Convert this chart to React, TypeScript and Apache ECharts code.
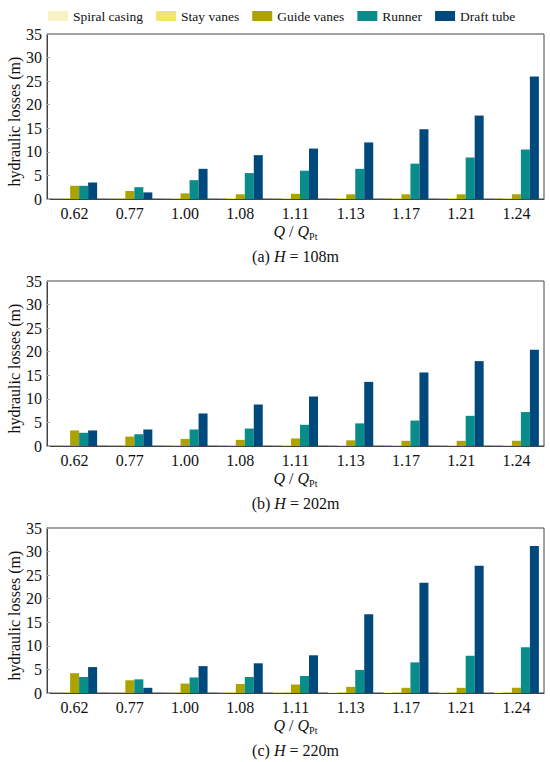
import React, { useEffect, useRef } from "react";
import * as echarts from "echarts";

const categories = ["0.62", "0.77", "1.00", "1.08", "1.11", "1.13", "1.17", "1.21", "1.24"];
const seriesNames = ["Spiral casing", "Stay vanes", "Guide vanes", "Runner", "Draft tube"];
const seriesColors = ["#F6F2C2", "#F1E66C", "#ACA300", "#0A8C8A", "#00497C"];
const yTicks = [0, 5, 10, 15, 20, 25, 30, 35];

// (a) H = 108m
const spiralA = [0.05, 0.05, 0.05, 0.05, 0.05, 0.05, 0.05, 0.05, 0.05];
const stayA = [0.1, 0.1, 0.15, 0.2, 0.2, 0.2, 0.2, 0.2, 0.2];
const guideA = [2.8, 1.7, 1.2, 1.0, 1.1, 1.0, 1.0, 1.0, 1.0];
const runnerA = [2.8, 2.5, 4.0, 5.5, 6.0, 6.4, 7.5, 8.8, 10.5];
const draftA = [3.5, 1.4, 6.4, 9.3, 10.7, 12.0, 14.8, 17.7, 26.0];

// (b) H = 202m
const spiralB = [0.05, 0.05, 0.05, 0.05, 0.05, 0.05, 0.05, 0.05, 0.05];
const stayB = [0.1, 0.1, 0.15, 0.15, 0.2, 0.2, 0.2, 0.2, 0.2];
const guideB = [3.3, 2.0, 1.5, 1.3, 1.6, 1.2, 1.1, 1.1, 1.1];
const runnerB = [2.8, 2.5, 3.5, 3.7, 4.5, 4.8, 5.4, 6.4, 7.2];
const draftB = [3.3, 3.5, 6.9, 8.8, 10.5, 13.6, 15.6, 18.0, 20.4];

// (c) H = 220m
const spiralC = [0.05, 0.05, 0.05, 0.1, 0.15, 0.25, 0.3, 0.3, 0.3];
const stayC = [0.1, 0.1, 0.1, 0.15, 0.15, 0.15, 0.15, 0.15, 0.15];
const guideC = [4.2, 2.7, 2.0, 1.9, 1.8, 1.3, 1.1, 1.1, 1.1];
const runnerC = [3.4, 2.9, 3.3, 3.4, 3.6, 4.9, 6.5, 7.9, 9.7];
const draftC = [5.5, 1.1, 5.7, 6.3, 8.0, 16.7, 23.4, 27.0, 31.2];

const panelLabels = [
  { tag: "(a) ", h: "108m" },
  { tag: "(b) ", h: "202m" },
  { tag: "(c) ", h: "220m" },
];

const panels = [
  [spiralA, stayA, guideA, runnerA, draftA],
  [spiralB, stayB, guideB, runnerB, draftB],
  [spiralC, stayC, guideC, runnerC, draftC],
];

const FONT = "'Liberation Serif', 'Times New Roman', serif";
const GRID_LEFT = 47;
const GRID_WIDTH = 497;
const GRID_HEIGHT = 165;
const GRID_TOPS = [34, 281, 528];

export default function App() {
  const ref = useRef<HTMLDivElement>(null);

  useEffect(() => {
    if (!ref.current) return;
    const chart = echarts.init(ref.current, null, { renderer: "svg" });

    const grids = GRID_TOPS.map((top) => ({
      left: GRID_LEFT,
      top,
      width: GRID_WIDTH,
      height: GRID_HEIGHT,
      show: true,
      borderColor: "#444",
      borderWidth: 1,
      backgroundColor: "transparent",
    }));

    const xAxes = GRID_TOPS.map((_, i) => ({
      type: "category",
      gridIndex: i,
      data: categories,
      axisLine: { show: true, lineStyle: { color: "#444", width: 1 } },
      axisTick: { show: true, inside: true, alignWithLabel: true, length: 2, lineStyle: { color: "#000", width: 1.5 } },
      axisLabel: { fontSize: 16, fontFamily: FONT, color: "#111", margin: 6 },
      splitLine: { show: false },
    }));

    const yAxes = GRID_TOPS.map((_, i) => ({
      type: "value",
      gridIndex: i,
      min: yTicks[0],
      max: yTicks[yTicks.length - 1],
      interval: 5,
      axisLine: { show: true, lineStyle: { color: "#444", width: 1 } },
      axisTick: { show: true, inside: true, length: 3, lineStyle: { color: "#aaa" } },
      axisLabel: { fontSize: 16, fontFamily: FONT, color: "#111", margin: 5 },
      splitLine: { show: false },
    }));

    const series: any[] = [];
    panels.forEach((panel, gi) => {
      panel.forEach((vals, si) => {
        series.push({
          type: "bar",
          name: seriesNames[si],
          xAxisIndex: gi,
          yAxisIndex: gi,
          data: vals,
          barWidth: 9,
          barGap: "0%",
          itemStyle: { color: seriesColors[si] },
        });
      });
    });

    const graphics: any[] = [];
    GRID_TOPS.forEach((top, i) => {
      const bottom = top + GRID_HEIGHT;
      const cx = GRID_LEFT + GRID_WIDTH / 2;
      graphics.push({
        type: "text",
        x: cx,
        y: bottom + 32,
        style: {
          text: "{i|Q}{n| / }{i|Q}{s|Pt}",
          align: "center",
          verticalAlign: "middle",
          fill: "#111",
          fontFamily: FONT,
          fontSize: 16,
          rich: {
            i: { fontStyle: "italic", fontSize: 16, fontFamily: FONT, lineHeight: 20, fill: "#111" },
            n: { fontSize: 16, fontFamily: FONT, lineHeight: 20, fill: "#111" },
            s: { fontSize: 10, fontFamily: FONT, lineHeight: 12, verticalAlign: "bottom", fill: "#111" },
          },
        },
      });
      graphics.push({
        type: "text",
        x: cx,
        y: bottom + 57,
        style: {
          text: `{n|${panelLabels[i].tag}}{i|H}{n| = ${panelLabels[i].h}}`,
          align: "center",
          verticalAlign: "middle",
          fill: "#111",
          fontFamily: FONT,
          fontSize: 16,
          rich: {
            i: { fontStyle: "italic", fontSize: 16, fontFamily: FONT, fill: "#111" },
            n: { fontSize: 16, fontFamily: FONT, fill: "#111" },
          },
        },
      });
      graphics.push({
        type: "text",
        x: 14,
        y: top + GRID_HEIGHT / 2 + 5,
        rotation: Math.PI / 2,
        style: {
          text: "hydraulic losses (m)",
          align: "center",
          verticalAlign: "middle",
          fill: "#111",
          fontFamily: FONT,
          fontSize: 16,
        },
      });
    });

    chart.setOption({
      animation: false,
      backgroundColor: "#fff",
      legend: {
        data: seriesNames,
        left: 43,
        top: 4,
        itemWidth: 20,
        itemHeight: 10,
        itemGap: 13,
        icon: "rect",
        textStyle: { fontSize: 13.5, fontFamily: FONT, color: "#111" },
      },
      grid: grids,
      xAxis: xAxes,
      yAxis: yAxes,
      series,
      graphic: graphics,
    });

    return () => chart.dispose();
  }, []);

  return <div ref={ref} style={{ position: "absolute", left: 0, top: 0, width: 550, height: 762 }} />;
}
